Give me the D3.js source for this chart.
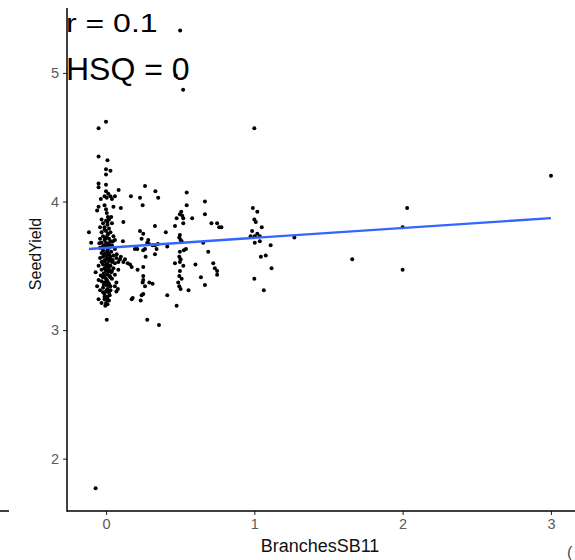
<!DOCTYPE html>
<html>
<head>
<meta charset="utf-8">
<script src="https://cdn.jsdelivr.net/npm/d3@7"></script>
<style>
  html, body { margin: 0; padding: 0; background: #fff; }
  svg { display: block; }
  text { font-family: "Liberation Sans", Arial, Helvetica, sans-serif; }
</style>
</head>
<body>
<svg id="chart" width="575" height="560"></svg>
<script>
// SeedYield vs BranchesSB11, with a least-squares fit line.
// Observations grouped by BranchesSB11 value, each [BranchesSB11, SeedYield].
const outlyingPoints = [
  [0.50,5.33],[0.47,4.98],[0.52,4.87],[-0.07,1.77],[3.0,4.20],[2.03,3.95],
  [2.0,3.47],[2.0,3.80],[1.66,3.55],[1.27,3.72]
];
const pointsNearOne = [
  [1.0,4.57],[0.99,3.95],[1.02,3.92],[1.0,3.86],[1.01,3.84],[1.05,3.80],[0.985,3.77],
  [0.975,3.73],[1.003,3.73],[1.02,3.75],[1.037,3.73],[1.003,3.68],[1.037,3.69],[1.11,3.66],
  [1.044,3.57],[1.077,3.58],[1.116,3.48],[1.0,3.40],[1.064,3.31]
];
const pointsNearSeventy = [
  [0.667,4.0],[0.667,3.90],[0.711,3.83],[0.749,3.83],[0.763,3.80],[0.778,3.80],[0.655,3.68],
  [0.689,3.61],[0.723,3.52],[0.734,3.48],[0.749,3.46],[0.749,3.43],[0.640,3.41],[0.667,3.35],
  [0.603,3.51],[0.581,3.87],[0.556,3.31]
];
const pointsNearHalf = [
  [0.544,4.07],[0.544,3.97],[0.507,3.92],[0.498,3.90],[0.514,3.89],[0.476,3.87],[0.521,3.87],
  [0.521,3.83],[0.465,3.81],[0.498,3.74],[0.494,3.72],[0.503,3.70],[0.510,3.69],[0.539,3.63],
  [0.525,3.62],[0.498,3.61],[0.494,3.57],[0.503,3.55],[0.498,3.53],[0.465,3.52],[0.521,3.50],
  [0.498,3.46],[0.494,3.42],[0.510,3.40],[0.487,3.37],[0.494,3.34],[0.503,3.32],[0.476,3.19],
  [0.413,3.65],[0.403,3.76],[0.413,3.27]
];
const pointsNearQuarter = [
  [0.263,4.12],[0.168,4.04],[0.229,4.03],[0.333,4.08],[0.352,4.03],[0.247,3.97],[0.330,3.81],
  [0.229,3.77],[0.251,3.75],[0.240,3.71],[0.285,3.70],[0.278,3.68],[0.330,3.66],[0.314,3.66],
  [0.341,3.63],[0.195,3.63],[0.211,3.63],[0.263,3.63],[0.251,3.62],[0.330,3.59],[0.267,3.57],
  [0.162,3.51],[0.251,3.49],[0.213,3.47],[0.251,3.42],[0.251,3.39],[0.247,3.37],[0.292,3.37],
  [0.314,3.36],[0.263,3.34],[0.251,3.28],[0.240,3.27],[0.180,3.25],[0.234,3.23],[0.278,3.08],
  [0.357,3.04],[0.173,3.49],[0.146,3.52],[0.117,3.53],[0.094,3.55],[0.083,3.47],[0.117,3.84],
  [0.173,3.24],[0.047,3.69],[0.114,3.69],[0.10,3.95],[0.085,4.09],[0.072,3.59],[0.10,3.57],
  [0.128,3.55],[0.083,3.53],[0.29,3.67],[0.35,3.67]
];
const pointsNearZeroUpper = [
  [0.0,4.62],[-0.05,4.57],[-0.05,4.35],[0.01,4.32],[0.0,4.25],[0.03,4.24],[0.0,4.21],
  [-0.05,4.14],[-0.05,4.11],[0.0,4.13],[0.0,4.08],[0.015,4.06],[-0.01,4.04],[0.03,4.04],
  [0.06,4.04],[-0.035,4.02],[0.005,4.03],[0.04,4.02],[-0.05,3.96],[-0.01,3.97],[0.05,3.96],
  [-0.06,3.93],[0.0,3.94],[0.005,3.91],[0.013,3.88],[0.035,3.88],[-0.115,3.76],[-0.10,3.68]
];
const pointsNearZeroLower = [
  [-0.07,3.45],[-0.05,3.39],[-0.06,3.34],[-0.04,3.31],[-0.05,3.24],[0.06,3.43],[0.07,3.37],
  [0.06,3.34],[0.08,3.32],[0.07,3.30],[-0.01,3.24],[-0.03,3.21],[0.005,3.08]
];
const pointsNearZeroCore = [
  [-0.03,3.86],[0.0,3.85],[0.02,3.86],[-0.02,3.83],[0.01,3.82],[0.04,3.83],[-0.04,3.80],
  [-0.01,3.80],[0.02,3.79],[0.0,3.77],[-0.03,3.76],[0.03,3.76],[0.01,3.74],[-0.02,3.73],
  [0.05,3.73],[0.0,3.72],[-0.04,3.71],[0.02,3.71],[0.06,3.70],[-0.01,3.70],
  [0.03,3.69],[-0.03,3.68],[0.0,3.68],[0.015,3.67],[-0.015,3.66],[0.04,3.66],[0.0,3.65],
  [-0.04,3.64],[0.02,3.64],[0.06,3.63],[-0.02,3.62],[0.01,3.62],[0.035,3.61],[-0.005,3.60],
  [-0.03,3.60],[0.02,3.59],[0.05,3.58],[0.0,3.58],[-0.02,3.57],[0.03,3.57],[0.01,3.56],
  [-0.04,3.56],[0.07,3.56],
  [0.0,3.55],[-0.01,3.54],[0.02,3.54],[0.04,3.53],[-0.03,3.53],[0.01,3.52],[0.06,3.52],
  [-0.02,3.51],[0.0,3.50],[0.03,3.50],[-0.05,3.50],[0.015,3.49],[-0.01,3.48],[0.05,3.48],
  [0.02,3.47],[-0.03,3.47],[0.0,3.46],[0.035,3.45],[-0.015,3.44],[0.01,3.43],[0.025,3.42],
  [-0.02,3.41],[0.0,3.40],[0.04,3.40],
  [0.01,3.38],[-0.01,3.37],[0.02,3.36],[0.0,3.35],[0.03,3.34],[-0.02,3.33],[0.01,3.32],
  [0.0,3.30],[0.02,3.29],[-0.01,3.28],[0.01,3.26],[0.0,3.25],[0.02,3.23],[0.0,3.21],
  [0.01,3.20],[-0.005,3.19],
  [0.01,3.84],[-0.01,3.78],[0.015,3.75],[-0.005,3.71],[0.025,3.66],[-0.025,3.645],
  [0.01,3.605],[-0.01,3.585],[0.025,3.555],[-0.015,3.535],[0.005,3.515],[0.02,3.495],
  [-0.005,3.475],[0.015,3.455],[-0.01,3.425],[0.03,3.41],[0.005,3.39],[-0.015,3.355],
  [0.02,3.345],[0.005,3.31],[-0.02,3.295],[0.025,3.27],[-0.01,3.26],[0.01,3.235],
  [0.03,3.31],[0.04,3.46],[0.045,3.545],[-0.035,3.425],[-0.03,3.38],[-0.045,3.675]
];

// Linear fit (SeedYield ~ BranchesSB11)
const fitIntercept = 3.64;
const fitSlope = 0.077;

const xTicks = [0, 1, 2, 3];
const yTicks = [2, 3, 4, 5];
const xTitle = "BranchesSB11";
const yTitle = "SeedYield";
const statLabels = ["r = 0.1", "HSQ = 0"];

const points = [].concat(
  outlyingPoints, pointsNearOne, pointsNearSeventy, pointsNearHalf,
  pointsNearQuarter, pointsNearZeroUpper, pointsNearZeroLower, pointsNearZeroCore
);

const svg = d3.select("#chart");
svg.append("rect").attr("width", 575).attr("height", 560).attr("fill", "#fff");

const panel = { left: 67, right: 575, top: 8, bottom: 511 };

const x = d3.scaleLinear().domain([-0.263, 3.162]).range([panel.left, panel.right]);
const y = d3.scaleLinear().domain([1.593, 5.505]).range([panel.bottom, panel.top]);

// points
svg.append("g")
  .selectAll("circle")
  .data(points)
  .join("circle")
  .attr("cx", d => x(d[0]))
  .attr("cy", d => y(d[1]))
  .attr("r", 2)
  .attr("fill", "#000");

// fitted line across the observed range
const xExtent = d3.extent(points, d => d[0]);
const line = d3.line().x(d => x(d)).y(d => y(fitIntercept + fitSlope * d));
svg.append("path")
  .datum(xExtent)
  .attr("d", line)
  .attr("fill", "none")
  .attr("stroke", "#3366FF")
  .attr("stroke-width", 2.4);

// axes
const xAxis = d3.axisBottom(x).tickValues(xTicks).tickFormat(d3.format("d")).tickSizeOuter(0).tickSize(4).tickPadding(4);
const yAxis = d3.axisLeft(y).tickValues(yTicks).tickFormat(d3.format("d")).tickSizeOuter(0).tickSize(4).tickPadding(4);

const gx = svg.append("g").attr("transform", `translate(0,${panel.bottom})`).call(xAxis);
const gy = svg.append("g").attr("transform", `translate(${panel.left},0)`).call(yAxis);

[gx, gy].forEach(g => {
  g.select(".domain").remove();
  g.selectAll(".tick line").attr("stroke", "#333").attr("stroke-width", 1.1);
  g.selectAll(".tick text").attr("fill", "#5a5a5a").style("font-size", "14.5px")
    .style("font-family", '"Liberation Sans", Arial, sans-serif');
});

// axis lines
svg.append("line")
  .attr("x1", panel.left).attr("x2", panel.right)
  .attr("y1", panel.bottom).attr("y2", panel.bottom)
  .attr("stroke", "#000").attr("stroke-width", 1.5);
svg.append("line")
  .attr("x1", panel.left).attr("x2", panel.left)
  .attr("y1", panel.top).attr("y2", panel.bottom + 0.75)
  .attr("stroke", "#000").attr("stroke-width", 1.5);

// edge of neighbouring panel's axis
svg.append("line")
  .attr("x1", 0).attr("x2", 9)
  .attr("y1", panel.bottom).attr("y2", panel.bottom)
  .attr("stroke", "#000").attr("stroke-width", 1.5);

// axis titles
svg.append("text")
  .attr("x", 320)
  .attr("y", 552)
  .attr("text-anchor", "middle")
  .style("font-size", "18px")
  .attr("fill", "#111")
  .text(xTitle);

svg.append("text")
  .attr("transform", `translate(41,254) rotate(-90)`)
  .attr("text-anchor", "middle")
  .style("font-size", "16px")
  .attr("fill", "#111")
  .text(yTitle);

// statistics annotations
svg.append("text")
  .attr("transform", "translate(66,32) scale(1,0.8)")
  .style("font-size", "32px")
  .attr("fill", "#000")
  .text(statLabels[0]);
svg.append("text")
  .attr("x", 66).attr("y", 80)
  .style("font-size", "32px")
  .attr("fill", "#000")
  .text(statLabels[1]);

// glyph at the lower right edge
svg.append("text")
  .attr("x", 567).attr("y", 558)
  .style("font-size", "16px")
  .attr("fill", "#4D4D4D")
  .text("(");
</script>
</body>
</html>
